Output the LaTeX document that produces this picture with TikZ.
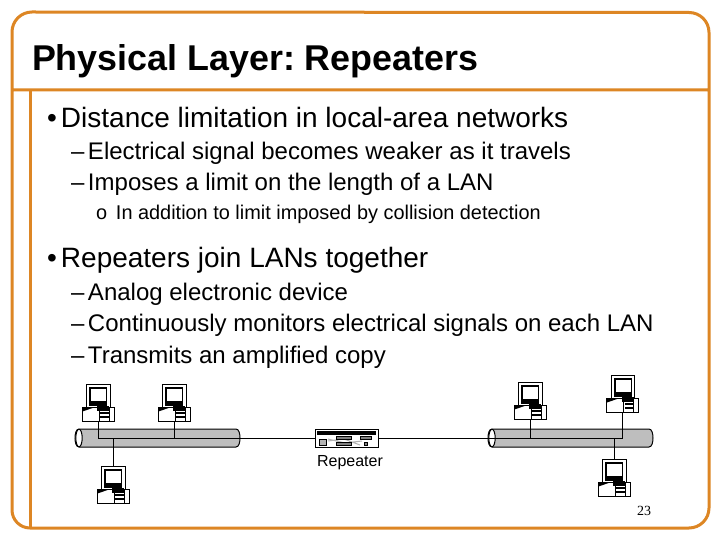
\documentclass[tikz,border=0pt]{standalone}
\usepackage{fontspec}
\setmainfont{Liberation Sans}
\newfontfamily\numfont{Liberation Serif}
\definecolor{frameorange}{HTML}{DD8624}
\definecolor{busgray}{HTML}{BEBEBE}
\frenchspacing
\tikzset{
  x=1pt,y=-1pt,
  framerule/.style={draw=frameorange,line width=3pt},
  wire/.style={draw=black,line width=0.9pt},
  outline/.style={draw=black,line width=1pt,fill=white},
  txt/.style={anchor=base west,inner sep=0pt,outer sep=0pt,text=black},
  titletxt/.style={txt,font=\fontsize{35.85}{36}\selectfont\bfseries},
  lvlone/.style={txt,font=\fontsize{28}{28}\selectfont},
  lvltwo/.style={txt,font=\fontsize{24}{24}\selectfont},
  lvlthree/.style={txt,font=\fontsize{19.9}{20}\selectfont},
  computer/.pic={
    \draw[outline] (-11.5,-37) rectangle (12,-14);
    \fill[black] (-9,-34.5) rectangle (9,-15);
    \fill[white] (-7,-32.5) rectangle (8,-20);
    \draw[outline] (-16,-14) rectangle (16,0);
    \fill[black] (-15.5,-13.5) -- (-4,-13.5) -- (-15.5,-9.5) -- cycle;
    \fill[black] (-1,-15) rectangle (11,-10.5);
    \fill[black] (2,-9) rectangle (11,-7);
    \fill[black] (2,-5.5) rectangle (11,-3.5);
    \draw[black,line width=.8pt] (1,-14) -- (1,0) (11,-14) -- (11,0);
    \coordinate (-top) at (0,-37);
    \coordinate (-bot) at (0,0);
  },
  buscable/.pic={
    \draw[draw=black,line width=1pt,fill=busgray] (0,0) -- (157,0)
      .. controls (160,0) and (161,5) .. (161,9)
      .. controls (161,13) and (160,18) .. (157,18) -- (0,18)
      .. controls (-3,18) and (-4,13) .. (-4,9)
      .. controls (-4,5) and (-3,0) .. (0,0) -- cycle;
    \draw[draw=black,line width=1pt,fill=white] (0,9) ellipse (3.2 and 8.8);
  }
}
\newcommand{\bulletmark}{\makebox[14pt][l]{•}}
\newcommand{\dashmark}{\makebox[17pt][l]{–}}
\newcommand{\circmark}{\makebox[20pt][l]{o}}
\begin{document}
\begin{tikzpicture}
\useasboundingbox (0,0) rectangle (720,540);
\fill[white] (0,0) rectangle (720,540);
% frame
\draw[framerule] (12,90) -- (12,32) arc[start angle=180,end angle=90,x radius=20,y radius=-20] -- (689,12.5)
  arc[start angle=90,end angle=0,x radius=20,y radius=-20] -- (709,508)
  arc[start angle=0,end angle=-90,x radius=20,y radius=-20] -- (30,528)
  arc[start angle=-90,end angle=-180,x radius=18,y radius=-18] -- (12,90) -- (709,90);
\draw[framerule] (30,90) -- (30,528);
% text
\node[titletxt] (title) at (32,71) {Physical Layer: Repeaters};
\node[lvlone] (b1) at (47,128) {\bulletmark Distance limitation in local-area networks};
\node[lvltwo] (s1) at (71,160) {\dashmark Electrical signal becomes weaker as it travels};
\node[lvltwo] (s2) at (71,191) {\dashmark Imposes a limit on the length of a LAN};
\node[lvlthree] (t1) at (96,219) {\circmark In addition to limit imposed by collision detection};
\node[lvlone] (b2) at (47,267) {\bulletmark Repeaters join LANs together};
\node[lvltwo] (s3) at (71,300) {\dashmark Analog electronic device};
\node[lvltwo] (s4) at (71,331.5) {\dashmark Continuously monitors electrical signals on each LAN};
\node[lvltwo] (s5) at (71,363) {\dashmark Transmits an amplified copy};
% buses
\pic (busL) at (79,429) {buscable};
\pic (busR) at (492,429) {buscable};
% repeater
\node[draw=black,line width=1pt,fill=white,minimum width=63pt,minimum height=18pt,inner sep=0pt] (rep) at (346.5,438) {};
\fill[black] (317,431) rectangle (376,435);
\draw[gray!60,line width=1pt] (328,439) -- (345,443) -- (362,441) (328,441) -- (344,439) -- (360,445);
\draw[black,fill=gray!60,line width=.7pt] (319,439) rectangle (326,445);
\draw[black,fill=gray,line width=.7pt] (336,436.5) rectangle (351,439.5);
\draw[black,fill=gray,line width=.7pt] (336,442) rectangle (351,445);
\draw[black,fill=gray,line width=.7pt] (360,436.5) rectangle (371,439.5);
\draw[black,fill=gray,line width=.7pt] (364,442) rectangle (367,445.5);
\node[txt,anchor=base,font=\fontsize{16}{16}\selectfont] (replabel) at (350,466) {Repeater};
% computers
\pic (c1) at (98,421) {computer};
\pic (c2) at (174,421) {computer};
\pic (c3) at (113,503) {computer};
\pic (c4) at (530,419) {computer};
\pic (c5) at (622.5,412) {computer};
\pic (c6) at (614,496) {computer};
% wires
\coordinate (jL) at (98,438);
\coordinate (jR) at (622.5,438);
\draw[wire] (c1-bot) -- (jL) -- (rep.west);
\draw[wire] (rep.east) -- (jR) -- (c5-bot);
\draw[wire] (c2-bot) -- (c2-bot |- rep.center);
\draw[wire] (c3-top) -- (c3-top |- rep.center);
\draw[wire] (c4-bot) -- (c4-bot |- rep.center);
\draw[wire] (c6-top) -- (c6-top |- rep.center);
\node[txt,anchor=base,font=\fontsize{14}{14}\numfont] (page) at (644,515) {23};
\end{tikzpicture}
\end{document}
